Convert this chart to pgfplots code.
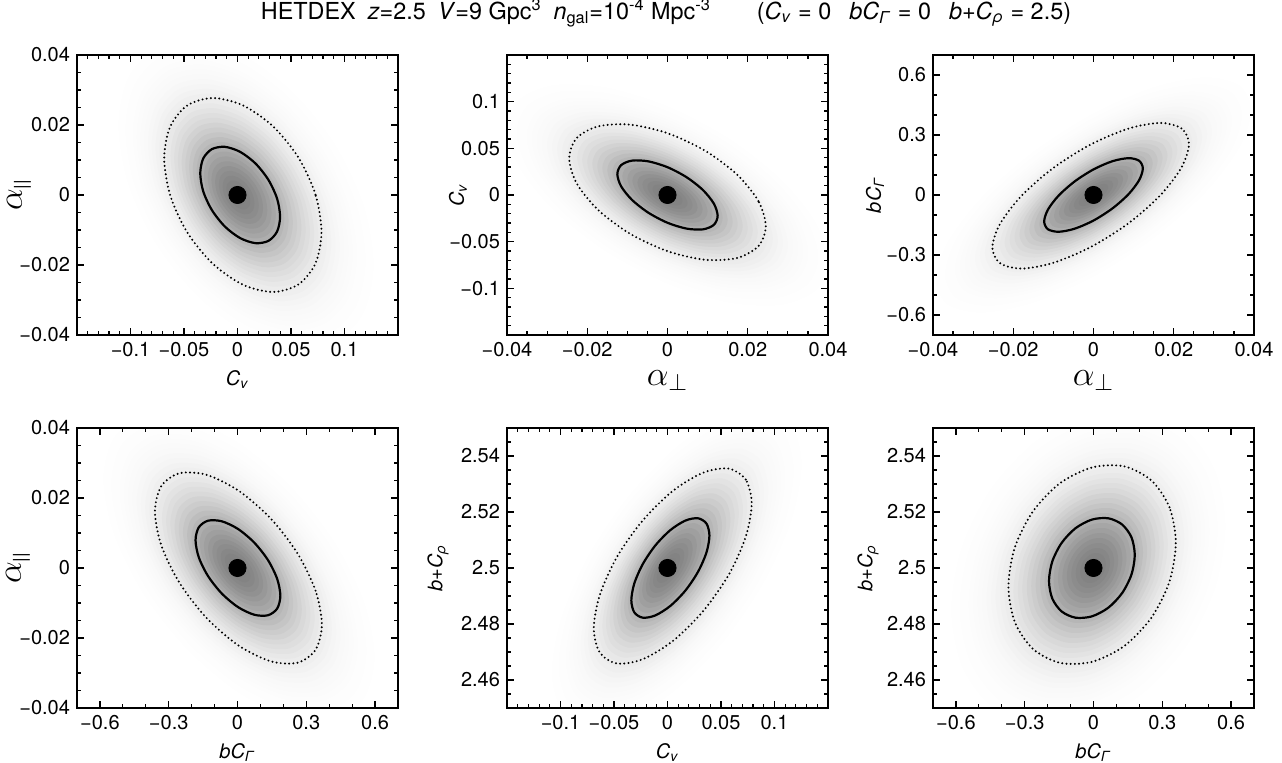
\documentclass[border=0pt]{standalone}
\usepackage{fontspec}
\setmainfont{TeX Gyre Heros}
\usepackage{pgfplots}
\usepackage{pgfplotstable}
\pgfplotsset{compat=1.18}

% contour tables: s = solid (inner), d = dotted (outer)
\pgfplotstableread{
x y
0.0398 -0.00621
0.0370 -0.00102
0.0289 0.00432
0.0168 0.00901
0.0025 0.01232
-0.0118 0.01376
-0.0239 0.01311
-0.0320 0.01045
-0.0348 0.00621
-0.0320 0.00102
-0.0239 -0.00432
-0.0118 -0.00901
0.0025 -0.01232
0.0168 -0.01376
0.0289 -0.01311
0.0370 -0.01045
}\pAs
\pgfplotstableread{
x y
0.0785 -0.01053
0.0729 0.00008
0.0570 0.01068
0.0331 0.01964
0.0050 0.02562
-0.0231 0.02770
-0.0470 0.02556
-0.0629 0.01953
-0.0685 0.01053
-0.0629 -0.00008
-0.0470 -0.01068
-0.0231 -0.01964
0.0050 -0.02562
0.0331 -0.02770
0.0570 -0.02556
0.0729 -0.01953
}\pAd
\pgfplotstableread{
x y
0.0125 -0.02232
0.01155 -0.00923
0.00884 0.00526
0.00478 0.01895
0 0.02976
-0.00478 0.03604
-0.00884 0.03682
-0.01155 0.03201
-0.0125 0.02232
-0.01155 0.00923
-0.00884 -0.00526
-0.00478 -0.01895
0 -0.02976
0.00478 -0.03604
0.00884 -0.03682
0.01155 -0.03201
}\pBs
\pgfplotstableread{
x y
0.0245 -0.0335
0.02264 -0.0065
0.01732 0.0219
0.00938 0.0474
0 0.0662
-0.00938 0.0754
-0.01732 0.0735
-0.02264 0.0609
-0.0245 0.0395
-0.02264 0.0125
-0.01732 -0.0159
-0.00938 -0.0414
0 -0.0602
0.00938 -0.0694
0.01732 -0.0675
0.02264 -0.0549
}\pBd
\pgfplotstableread{
x y
0.0123 0.1325
0.01136 0.1713
0.00870 0.1840
0.00471 0.1687
0 0.1277
-0.00471 0.0673
-0.00870 -0.0034
-0.01136 -0.0735
-0.0123 -0.1325
-0.01136 -0.1713
-0.00870 -0.1840
-0.00471 -0.1687
0 -0.1277
0.00471 -0.0673
0.00870 0.0034
0.01136 0.0735
}\pCs
\pgfplotstableread{
x y
0.0238 0.2544
0.0219 0.3329
0.0166 0.3600
0.0087 0.3317
-0.0007 0.2523
-0.0101 0.1339
-0.0180 -0.0055
-0.0233 -0.1447
-0.0252 -0.2624
-0.0233 -0.3409
-0.0180 -0.3680
-0.0101 -0.3397
-0.0007 -0.2603
0.0087 -0.1419
0.0166 -0.0025
0.0219 0.1367
}\pCd
\pgfplotstableread{
x y
0.187 -0.00795
0.1729 -0.00307
0.1328 0.00227
0.0728 0.00727
0.002 0.01116
-0.0688 0.01335
-0.1288 0.01351
-0.1689 0.01161
-0.183 0.00795
-0.1689 0.00307
-0.1288 -0.00227
-0.0688 -0.00727
0.002 -0.01116
0.0728 -0.01335
0.1328 -0.01351
0.1729 -0.01161
}\pDs
\pgfplotstableread{
x y
0.368 -0.01617
0.3403 -0.00647
0.2614 0.00421
0.1433 0.01425
0.004 0.02212
-0.1353 0.02663
-0.2534 0.02707
-0.3323 0.02340
-0.360 0.01617
-0.3323 0.00647
-0.2534 -0.00421
-0.1353 -0.01425
0.004 -0.02212
0.1433 -0.02663
0.2614 -0.02707
0.3403 -0.02340
}\pDd
\pgfplotstableread{
x y
0.0392 2.51157
0.0364 2.51587
0.0285 2.51775
0.0167 2.51693
0.0027 2.51353
-0.0113 2.50807
-0.0231 2.50138
-0.0310 2.49449
-0.0338 2.48843
-0.0310 2.48413
-0.0231 2.48225
-0.0113 2.48307
0.0027 2.48647
0.0167 2.49193
0.0285 2.49862
0.0364 2.50551
}\pEs
\pgfplotstableread{
x y
0.0787 2.5230
0.0731 2.5316
0.0571 2.5355
0.0331 2.5340
0.0049 2.5275
-0.0233 2.5169
-0.0473 2.5039
-0.0633 2.4903
-0.0689 2.4784
-0.0633 2.4698
-0.0473 2.4659
-0.0233 2.4674
0.0049 2.4739
0.0331 2.4845
0.0571 2.4975
0.0731 2.5111
}\pEd
\pgfplotstableread{
x y
0.180 2.50465
0.1658 2.51091
0.1252 2.51551
0.0646 2.51775
-0.007 2.51728
-0.0786 2.51419
-0.1392 2.50893
-0.1798 2.50231
-0.194 2.49535
-0.1798 2.48909
-0.1392 2.48449
-0.0786 2.48225
-0.007 2.48272
0.0646 2.48581
0.1252 2.49107
0.1658 2.49769
}\pFs
\pgfplotstableread{
x y
0.359 2.5090
0.3312 2.5217
0.2521 2.5313
0.1337 2.5363
-0.006 2.5359
-0.1457 2.5303
-0.2641 2.5202
-0.3432 2.5073
-0.371 2.4934
-0.3432 2.4807
-0.2641 2.4711
-0.1457 2.4661
-0.006 2.4665
0.1337 2.4721
0.2521 2.4822
0.3312 2.4951
}\pFd

% grey likelihood shading: inner contour scaled about the centre, scale/darkness
\def\shadelayer#1#2#3/#4\relax{%
  \addplot[draw=none, fill=black!#4, smooth cycle]
    table[x expr=#3*\thisrow{x}, y expr=#2+#3*(\thisrow{y}-#2)] {#1};}
\newcommand\gshade[2]{%
  \pgfplotsinvokeforeach{3.2/0.35,3.1/0.48,3.0/0.64,2.9/0.86,2.8/1.14,2.7/1.49,
    2.6/1.94,2.5/2.49,2.4/3.16,2.3/3.98,2.2/4.96,2.1/6.12,2.0/7.47,1.9/9.03,
    1.8/10.8,1.7/12.8,1.6/15.0,1.5/17.5,1.4/20.1,1.3/22.9,1.2/25.8,1.1/28.8,
    1.0/31.9,0.9/34.9,0.8/37.7,0.7/40.5,0.6/43.0,0.5/45.2,0.4/47.0,0.3/48.5,
    0.2/49.4,0.1/49.9}
  {\shadelayer{#1}{#2}##1\relax}}
\newcommand\contours[3]{%
  \addplot[black, line width=1.1pt, smooth cycle] table {#1};
  \addplot[black, line width=1.1pt, line cap=round, dash pattern=on 0pt off 2.1pt, smooth cycle] table {#2};
  \addplot[only marks, mark=*, mark size=4.3pt, black] coordinates {(0,#3)};}

\newcommand\lCv{\textit{C}\textsubscript{\textit{v}}}
\newcommand\lbCG{\textit{bC}\textsubscript{\textit{Γ}}}
\newcommand\lbCr{\textit{b}+\textit{C}\textsubscript{\textit{ρ}}}
\newcommand\lapar{\LARGE$\alpha_{\mbox{\small ||}}$}
\newcommand\laperp{\LARGE$\alpha_{\perp}$}

\pgfplotsset{
  panel/.style={scale only axis, width=160.5pt, height=140pt, anchor=south west,
    axis on top, scaled x ticks=false, scaled y ticks=false,
    axis line style={line width=1pt},
    tick style={black, line width=0.6pt},
    tick align=inside, xtick pos=both, ytick pos=both,
    xticklabel pos=lower, yticklabel pos=left,
    major tick length=3.6pt, minor tick length=1.9pt},
  ylab/.style={ylabel style={at={([xshift=-#1]axis description cs:0,0.5)}, anchor=center, inner sep=0pt}},
  xCv/.style={xmin=-0.15, xmax=0.15, xtick={-0.1,-0.05,0,0.05,0.1},
    xticklabels={−0.1,−0.05,0,0.05,0.1}, minor xtick={-0.15,-0.14,...,0.15}, xlabel={\lCv}},
  yCv/.style={ymin=-0.15, ymax=0.15, ytick={-0.1,-0.05,0,0.05,0.1},
    yticklabels={−0.1,−0.05,0,0.05,0.1}, minor ytick={-0.15,-0.14,...,0.15}, ylabel={\lCv}},
  xperp/.style={xmin=-0.04, xmax=0.04, xtick={-0.04,-0.02,0,0.02,0.04},
    xticklabels={−0.04,−0.02,0,0.02,0.04}, minor xtick={-0.04,-0.035,...,0.04}, xlabel={\laperp}},
  ypar/.style={ymin=-0.04, ymax=0.04, ytick={-0.04,-0.02,0,0.02,0.04},
    yticklabels={−0.04,−0.02,0,0.02,0.04}, minor ytick={-0.04,-0.035,...,0.04}, ylabel={\lapar}},
  xbCG/.style={xmin=-0.7, xmax=0.7, xtick={-0.6,-0.3,0,0.3,0.6},
    xticklabels={−0.6,−0.3,0,0.3,0.6}, minor xtick={-0.7,-0.6,...,0.7}, xlabel={\lbCG}},
  ybCG/.style={ymin=-0.7, ymax=0.7, ytick={-0.6,-0.3,0,0.3,0.6},
    yticklabels={−0.6,−0.3,0,0.3,0.6}, minor ytick={-0.7,-0.6,...,0.7}, ylabel={\lbCG}},
  ybCr/.style={ymin=2.45, ymax=2.55, ytick={2.46,2.48,2.5,2.52,2.54},
    yticklabels={2.46,2.48,2.5,2.52,2.54}, minor ytick={2.45,2.455,...,2.55}, ylabel={\lbCr}},
}

\begin{document}
\begin{tikzpicture}
\begin{axis}[panel, at={(38.5pt,214pt)}, xCv, ypar, ylab=29pt]
  \gshade{\pAs}{0}
  \contours{\pAs}{\pAd}{0}
\end{axis}
\begin{axis}[panel, at={(253.5pt,214pt)}, xperp, yCv, ylab=24.5pt]
  \gshade{\pBs}{0}
  \contours{\pBs}{\pBd}{0}
\end{axis}
\begin{axis}[panel, at={(466.5pt,214pt)}, xperp, ybCG, ylab=29pt]
  \gshade{\pCs}{0}
  \contours{\pCs}{\pCd}{0}
\end{axis}
\begin{axis}[panel, at={(38.5pt,27.5pt)}, xbCG, ypar, ylab=29.5pt]
  \gshade{\pDs}{0}
  \contours{\pDs}{\pDd}{0}
\end{axis}
\begin{axis}[panel, at={(253.5pt,27.5pt)}, xCv, ybCr, ylab=34.5pt]
  \gshade{\pEs}{2.5}
  \contours{\pEs}{\pEd}{2.5}
\end{axis}
\begin{axis}[panel, at={(466.5pt,27.5pt)}, xbCG, ybCr, ylab=32.5pt]
  \gshade{\pFs}{2.5}
  \contours{\pFs}{\pFd}{2.5}
\end{axis}
\node[font=\fontsize{11.7}{14}\selectfont] at (333pt,375pt) {HETDEX\hspace{6pt}\textit{z}=2.5\hspace{6pt}\textit{V}=9 Gpc\textsuperscript{3}\hspace{6pt}\textit{n}\textsubscript{gal}=10\textsuperscript{-4} Mpc\textsuperscript{-3}\hspace{23pt}(\textit{C}\textsubscript{\textit{v}} = 0\hspace{9pt}\textit{bC}\textsubscript{\textit{Γ}} = 0\hspace{9pt}\textit{b}+\textit{C}\textsubscript{\textit{ρ}} = 2.5)};
\pgfresetboundingbox
\path[use as bounding box] (0,0) rectangle (641pt,381.5pt);
\end{tikzpicture}
\end{document}
